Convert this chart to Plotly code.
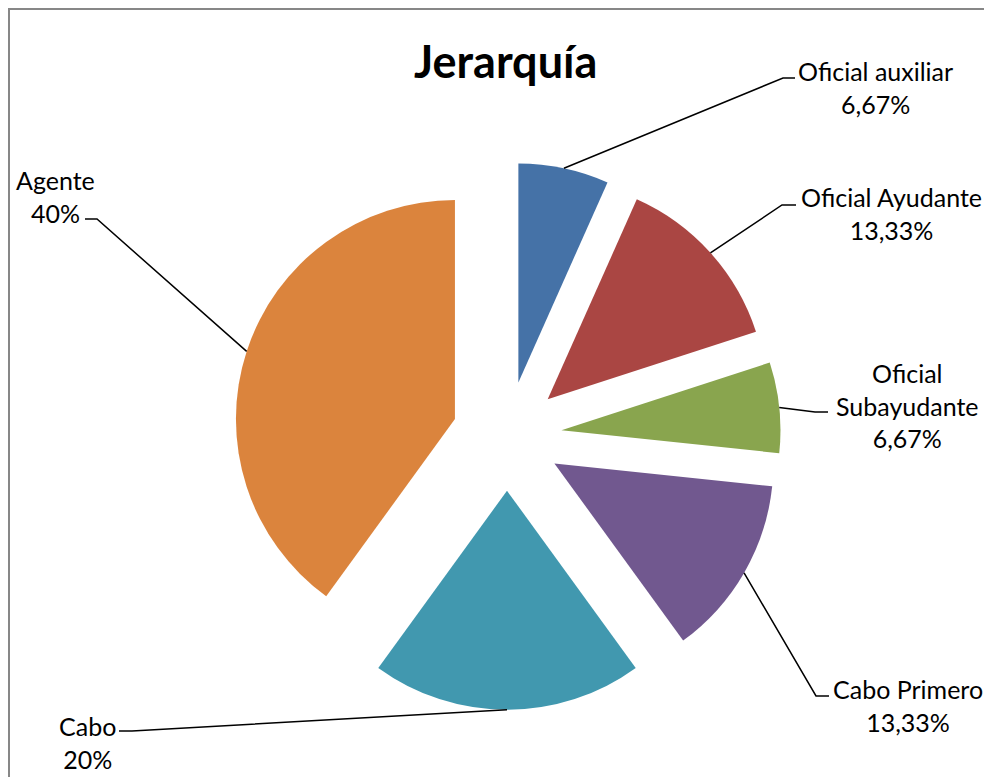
import math
import plotly.graph_objects as go

# ---------------- data ----------------
categories = ["Oficial auxiliar", "Oficial Ayudante", "Oficial Subayudante",
              "Cabo Primero", "Cabo", "Agente"]
percent_values = [6.67, 13.33, 6.67, 13.33, 20, 40]
label_lines = ["Oficial auxiliar", "Oficial Ayudante", "Oficial<br>Subayudante",
               "Cabo Primero", "Cabo", "Agente"]
title_text = "Jerarquía"

# ---------------- style ----------------
colors = ["#4572A7", "#AA4643", "#89A54E", "#71588F", "#4198AF", "#DB843D"]
FONT = "Lato"
OFF = 8                              # page body margin offset
W, H = 992 - 2 * OFF, 777 - OFF
CX, CY, R = 507, 436, 219            # pie centre / radius (screen pixels)
PULL = 0.25
# label placement (screen pixels): label centre x, y ; elbow x, y ; stub end x
label_layout = [
    (875, 87, 783, 78, 795),
    (891, 213, 782, 205, 796),
    (907, 405, 815, 412, 828),
    (908, 705, 816, 696, 829),
    (87, 742, 132, 731, 119),
    (55, 196, 97, 219, 85),
]


def X(px):
    return (px - OFF) / W


def Y(py):
    return 1 - (py - OFF) / H


def fmt_pct(v):
    if abs(v - round(v)) < 1e-9:
        return f"{int(round(v))}%"
    return f"{v:.2f}".replace(".", ",") + "%"


half = R * (1 + PULL)
dom_x = [X(CX - half), X(CX + half)]
dom_y = [Y(CY + half), Y(CY - half)]

fig = go.Figure(go.Pie(
    labels=categories,
    values=percent_values,
    sort=False,
    direction="clockwise",
    rotation=0,
    pull=[PULL] * len(percent_values),
    marker=dict(colors=colors, line=dict(width=0)),
    textinfo="none",
    hoverinfo="label+percent",
    domain=dict(x=dom_x, y=dom_y),
    showlegend=False,
))

shapes = []
annotations = []
total = sum(percent_values)
cum = 0.0
for i, v in enumerate(percent_values):
    mid = (cum + v / 2) / total * 2 * math.pi
    cum += v
    ux, uy = math.sin(mid), -math.cos(mid)
    ax = CX + (R + PULL * R) * ux
    ay = CY + (R + PULL * R) * uy
    lx, ly, ex, ey, sx = label_layout[i]
    shapes.append(dict(
        type="path", xref="paper", yref="paper",
        path=f"M {X(ax)} {Y(ay)} L {X(ex)} {Y(ey)} L {X(sx)} {Y(ey)}",
        line=dict(color="black", width=1.5),
    ))
    annotations.append(dict(
        x=X(lx), y=Y(ly), xref="paper", yref="paper",
        text=label_lines[i] + "<br>" + fmt_pct(v),
        showarrow=False, xanchor="center", yanchor="middle",
        font=dict(family=FONT, size=25, color="black"),
    ))

annotations.append(dict(
    x=X(505), y=Y(61), xref="paper", yref="paper",
    text=f"<b>{title_text}</b>", showarrow=False,
    xanchor="center", yanchor="middle",
    font=dict(family=FONT, size=45, color="black"),
))

# chart border: top and left edges (right/bottom lie outside the picture)
shapes.append(dict(type="line", xref="paper", yref="paper",
                   x0=X(8), x1=1.2, y0=Y(8) - 1 / H, y1=Y(8) - 1 / H,
                   line=dict(color="#878787", width=2)))
shapes.append(dict(type="line", xref="paper", yref="paper",
                   x0=X(8) + 1 / W, x1=X(8) + 1 / W, y0=Y(8), y1=-0.2,
                   line=dict(color="#878787", width=2)))

fig.update_layout(
    width=W, height=H,
    margin=dict(l=0, r=0, t=0, b=0),
    paper_bgcolor="white",
    plot_bgcolor="white",
    shapes=shapes,
    annotations=annotations,
)

fig.write_html("out.html")
